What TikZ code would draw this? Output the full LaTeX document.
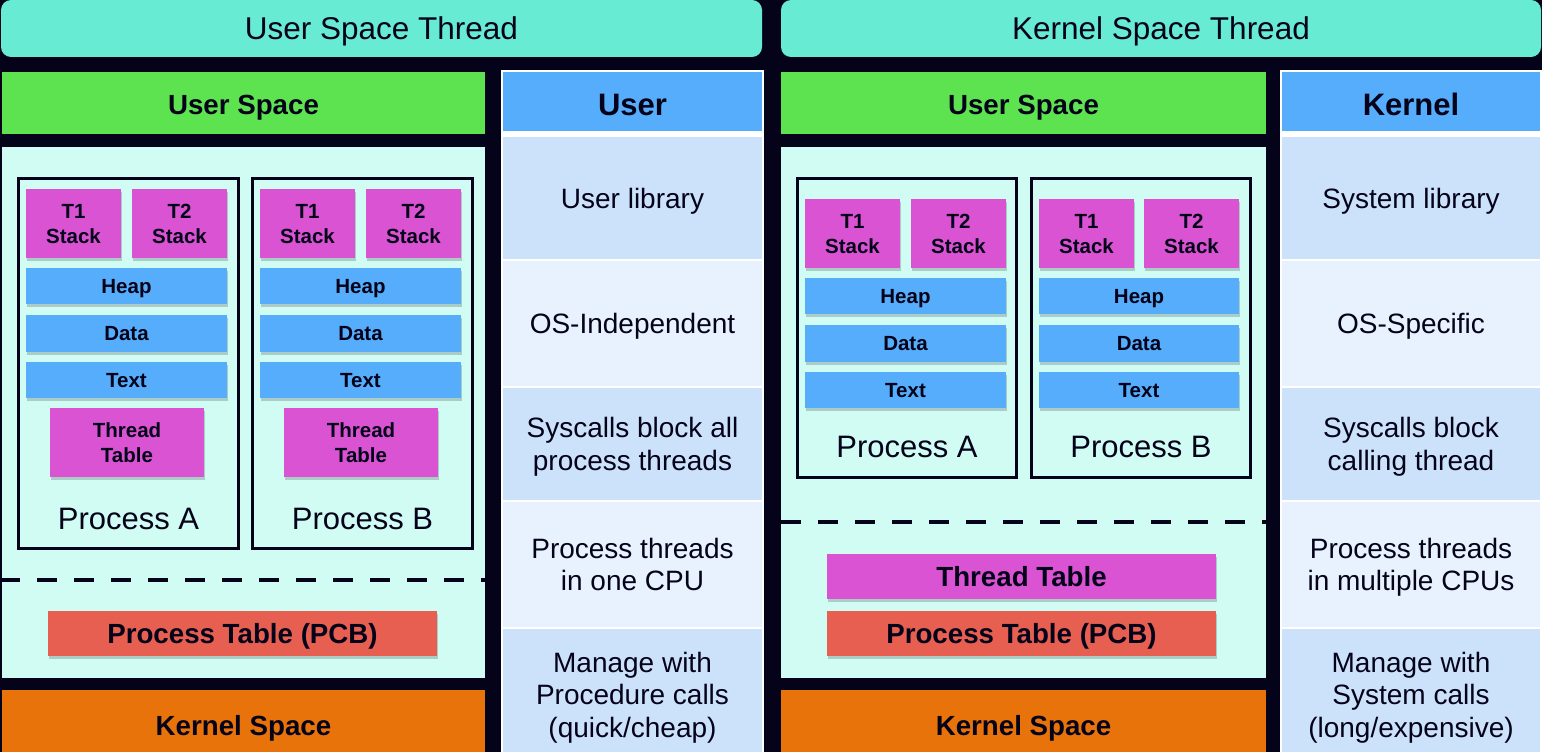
\documentclass[tikz,border=0pt]{standalone}
\usepackage{fontspec}
\setmainfont{Liberation Sans}
\usetikzlibrary{shadows}
\definecolor{bg}{HTML}{05031A}
\definecolor{ink}{HTML}{05031A}
\definecolor{bannerc}{HTML}{67EBD3}
\definecolor{greenc}{HTML}{5EE350}
\definecolor{panelc}{HTML}{D0FCF4}
\definecolor{orangec}{HTML}{E8730B}
\definecolor{bluec}{HTML}{56ADFB}
\definecolor{magc}{HTML}{DA53D2}
\definecolor{salmonc}{HTML}{E65F50}
\definecolor{cellAc}{HTML}{CCE2FA}
\definecolor{cellBc}{HTML}{E8F1FE}
\newcommand\setfs[2]{\fontsize{#1}{#2}\selectfont}
\newcommand\rbox[7]{\node[#2, minimum width={(#5)-(#3)}, minimum height={(#6)-(#4)}] (#1) at ({((#3)+(#5))/2},{((#4)+(#6))/2}) {#7};}
\tikzset{
  base/.style={inner sep=0pt, outer sep=0pt, text=ink, align=center, text depth=0pt},
  softshadow/.style={drop shadow={shadow xshift=0.5pt, shadow yshift=-2.5pt, opacity=0.18, fill=black}},
  banner/.style={base, fill=bannerc, rounded corners=10pt, font=\setfs{31.5}{36}},
  spacehead/.style={base, fill=greenc, text height=23pt, font=\bfseries\setfs{27.7}{32}},
  panel/.style={base, fill=panelc},
  kern/.style={base, fill=orangec, font=\bfseries\setfs{27.7}{32}},
  colbg/.style={base, fill=white},
  colhead/.style={base, fill=bluec, text height=27pt, font=\bfseries\setfs{31}{36}},
  cellA/.style={base, fill=cellAc, font=\setfs{28}{32.5}},
  cellB/.style={base, fill=cellBc, font=\setfs{28}{32.5}},
  stackbox/.style={base, fill=magc, softshadow, font=\bfseries\setfs{20.5}{25}},
  segbox/.style={base, fill=bluec, softshadow, font=\bfseries\setfs{20.5}{25}},
  widetable/.style={base, fill=magc, softshadow, font=\bfseries\setfs{27.7}{32}},
  pcbbox/.style={base, fill=salmonc, softshadow, font=\bfseries\setfs{27.7}{32}},
  procbox/.style={base, draw=ink, line width=3pt},
  proclabel/.style={base, font=\setfs{31}{36}},
  divider/.style={draw=ink, line width=4pt, dash pattern=on 20pt off 17pt}
}
\begin{document}
\begin{tikzpicture}[x=1pt,y=-1pt]
\useasboundingbox (0,0) rectangle (1542,752);
\fill[bg] (0,0) rectangle (1542,752);

% ---------- banners ----------
\rbox{ubanner}{banner}{1}{0}{762}{57}{User Space Thread}
\rbox{kbanner}{banner}{781}{0}{1541}{57}{Kernel Space Thread}

% ---------- left: user space thread ----------
\rbox{lus}{spacehead}{2}{72}{485}{134}{User Space}
\rbox{lpanel}{panel}{2}{147}{485}{678}{}
\rbox{lks}{kern}{2}{690}{485}{760}{Kernel Space}

\rbox{lpa}{procbox}{18.5}{178.5}{238.5}{548.5}{}
\rbox{lpb}{procbox}{252.5}{178.5}{472.5}{548.5}{}

\rbox{lat1}{stackbox}{26}{189}{121}{258}{T1\\Stack}
\rbox{lat2}{stackbox}{132}{189}{227}{258}{T2\\Stack}
\rbox{laheap}{segbox}{26}{268}{227}{304}{Heap}
\rbox{ladata}{segbox}{26}{315}{227}{352}{Data}
\rbox{latext}{segbox}{26}{362}{227}{398}{Text}
\rbox{latt}{stackbox}{50}{408}{204}{477}{Thread\\Table}
\node[proclabel] (lpal) at (128.5,519) {Process A};

\rbox{lbt1}{stackbox}{260}{189}{355}{258}{T1\\Stack}
\rbox{lbt2}{stackbox}{366}{189}{461}{258}{T2\\Stack}
\rbox{lbheap}{segbox}{260}{268}{461}{304}{Heap}
\rbox{lbdata}{segbox}{260}{315}{461}{352}{Data}
\rbox{lbtext}{segbox}{260}{362}{461}{398}{Text}
\rbox{lbtt}{stackbox}{284}{408}{438}{477}{Thread\\Table}
\node[proclabel] (lpbl) at (362.5,519) {Process B};

\coordinate (ld1) at (0,580);
\coordinate (ld2) at (485,580);
\draw[divider] (ld1) -- (ld2);
\rbox{lpcb}{pcbbox}{48}{611}{437}{656}{Process Table (PCB)}

% ---------- user column ----------
\rbox{ucol}{colbg}{501}{70}{764}{760}{}
\rbox{uh}{colhead}{503}{72}{762}{131}{User}
\rbox{uc1}{cellA}{503}{137}{762}{259}{User library}
\rbox{uc2}{cellB}{503}{261}{762}{386}{OS-Independent}
\rbox{uc3}{cellA}{503}{388}{762}{500}{Syscalls block all\\process threads}
\rbox{uc4}{cellB}{503}{502}{762}{627}{Process threads\\in one CPU}
\rbox{uc5}{cellA}{503}{629}{762}{760}{Manage with\\Procedure calls\\(quick/cheap)}

% ---------- right: kernel space thread ----------
\rbox{rus}{spacehead}{781}{72}{1266}{134}{User Space}
\rbox{rpanel}{panel}{781}{147}{1266}{678}{}
\rbox{rks}{kern}{781}{690}{1266}{760}{Kernel Space}

\rbox{rpa}{procbox}{797.5}{178.5}{1016.5}{477.5}{}
\rbox{rpb}{procbox}{1031.5}{178.5}{1250.5}{477.5}{}

\rbox{rat1}{stackbox}{805}{199}{900}{268}{T1\\Stack}
\rbox{rat2}{stackbox}{911}{199}{1006}{268}{T2\\Stack}
\rbox{raheap}{segbox}{805}{278}{1006}{314}{Heap}
\rbox{radata}{segbox}{805}{325}{1006}{362}{Data}
\rbox{ratext}{segbox}{805}{372}{1006}{408}{Text}
\node[proclabel] (rpal) at (907,447) {Process A};

\rbox{rbt1}{stackbox}{1039}{199}{1134}{268}{T1\\Stack}
\rbox{rbt2}{stackbox}{1144}{199}{1239}{268}{T2\\Stack}
\rbox{rbheap}{segbox}{1039}{278}{1239}{314}{Heap}
\rbox{rbdata}{segbox}{1039}{325}{1239}{362}{Data}
\rbox{rbtext}{segbox}{1039}{372}{1239}{408}{Text}
\node[proclabel] (rpbl) at (1141,447) {Process B};

\coordinate (rd1) at (781,522);
\coordinate (rd2) at (1266,522);
\draw[divider] (rd1) -- (rd2);
\rbox{rtt}{widetable}{827}{554}{1216}{599}{Thread Table}
\rbox{rpcb}{pcbbox}{827}{611}{1216}{656}{Process Table (PCB)}

% ---------- kernel column ----------
\rbox{kcol}{colbg}{1280}{70}{1542}{760}{}
\rbox{kh}{colhead}{1282}{72}{1540}{131}{Kernel}
\rbox{kc1}{cellA}{1282}{137}{1540}{259}{System library}
\rbox{kc2}{cellB}{1282}{261}{1540}{386}{OS-Specific}
\rbox{kc3}{cellA}{1282}{388}{1540}{500}{Syscalls block\\calling thread}
\rbox{kc4}{cellB}{1282}{502}{1540}{627}{Process threads\\in multiple CPUs}
\rbox{kc5}{cellA}{1282}{629}{1540}{760}{Manage with\\System calls\\(long/expensive)}
\end{tikzpicture}
\end{document}
